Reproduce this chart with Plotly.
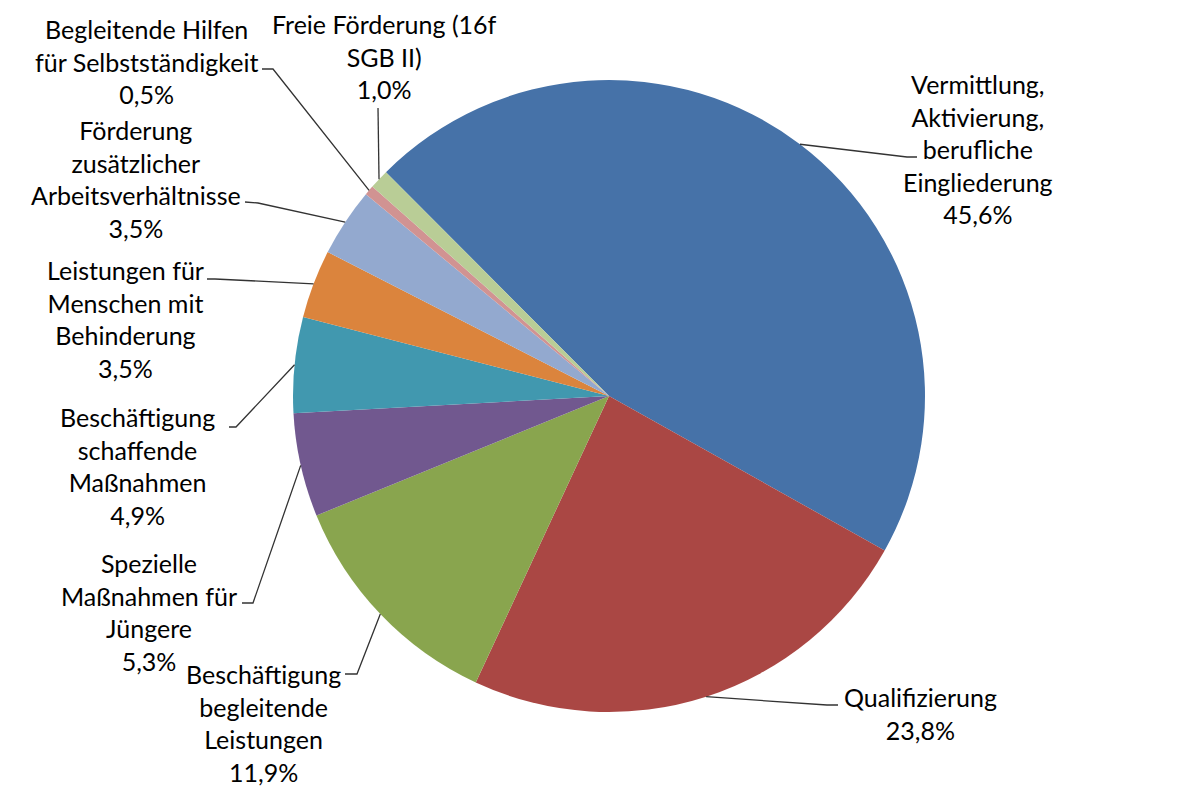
import math
import plotly.graph_objects as go

# ---- data ----
categories = [
    "Vermittlung,<br>Aktivierung,<br>berufliche<br>Eingliederung",
    "Qualifizierung",
    "Beschäftigung<br>begleitende<br>Leistungen",
    "Spezielle<br>Maßnahmen für<br>Jüngere",
    "Beschäftigung<br>schaffende<br>Maßnahmen",
    "Leistungen für<br>Menschen mit<br>Behinderung",
    "Förderung<br>zusätzlicher<br>Arbeitsverhältnisse",
    "Begleitende Hilfen<br>für Selbstständigkeit",
    "Freie Förderung (16f<br>SGB II)",
]
values = [45.6, 23.8, 11.9, 5.3, 4.9, 3.5, 3.5, 0.5, 1.0]
colors = ["#4672A8", "#AA4744", "#89A54E", "#71588F", "#4198AF",
          "#DB843D", "#93A9CF", "#D19392", "#B9CD96"]

# ---- layout constants (pixels) ----
W, H = 1203, 787
CX, CY, R = 609, 396, 316
ROTATION = -44.9
# label centre (x, y) and leader-line end / elbow points
label_pos = [(978, 149), (920, 713), (263, 723), (149, 612), (137, 466),
             (125, 319), (136, 179), (146, 62), (384, 57)]
line_end = [(917, 157), (838, 705), (345, 674), (242, 603), (229, 427),
            (207, 279), (245, 202), (262, 69), (378, 108)]
line_elbow = [(907, 157), (827, 705), (357, 674), (253, 603), (236, 427),
              (215, 279), (258, 203), (273, 69), (378, 108)]

FONT = "Lato, 'Open Sans', sans-serif"
FSIZE = 25


def px(x):
    return x / W


def py(y):
    return 1 - y / H


fig = go.Figure(go.Pie(
    values=values,
    labels=[c.replace("<br>", " ") for c in categories],
    marker=dict(colors=colors, line=dict(width=0)),
    sort=False,
    direction="clockwise",
    rotation=ROTATION,
    textinfo="none",
    showlegend=False,
    domain=dict(x=[px(CX - R), px(CX + R)], y=[py(CY + R), py(CY - R)]),
))

total = sum(values)
cum = 0.0
shapes = []
annotations = []
for i, v in enumerate(values):
    mid = ROTATION + (cum + v / 2) / total * 360.0
    cum += v
    a = math.radians(mid)
    ax = CX + R * math.sin(a)
    ay = CY - R * math.cos(a)
    ex, ey = line_end[i]
    bx, by = line_elbow[i]
    path = f"M {px(ax)} {py(ay)} L {px(bx)} {py(by)} L {px(ex)} {py(ey)}"
    shapes.append(dict(type="path", path=path, xref="paper", yref="paper",
                       line=dict(color="#333333", width=1.3)))
    pct = f"{v:.1f}".replace(".", ",") + "%"
    lx, ly = label_pos[i]
    annotations.append(dict(
        x=px(lx), y=py(ly), xref="paper", yref="paper",
        text=categories[i] + "<br>" + pct, showarrow=False,
        xanchor="center", yanchor="middle", align="center",
        font=dict(family=FONT, size=FSIZE, color="#000000"),
    ))

fig.update_layout(
    width=W, height=H,
    margin=dict(l=0, r=0, t=0, b=0),
    paper_bgcolor="white", plot_bgcolor="white",
    shapes=shapes, annotations=annotations,
)

fig.write_html(
    "out.html",
    config={"displayModeBar": False},
    post_script="document.body.style.margin='0';document.body.style.overflow='hidden';",
)
